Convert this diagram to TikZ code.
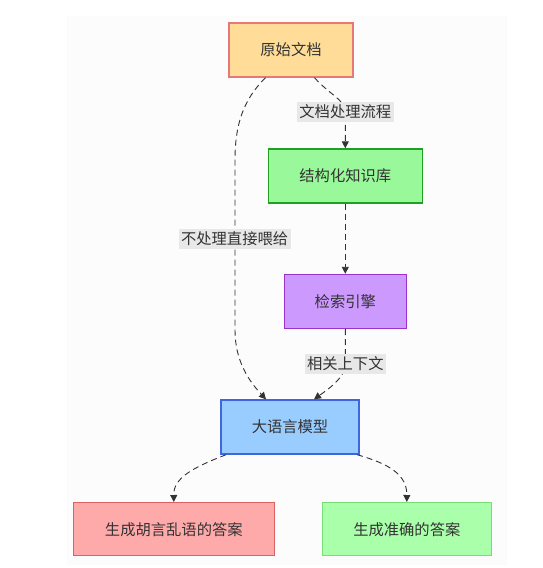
\documentclass[tikz,border=0pt]{standalone}
\usepackage{fontspec}
\setmainfont{Noto Sans CJK SC}
\usetikzlibrary{arrows.meta}
\definecolor{txt}{HTML}{333333}
\definecolor{bgc}{HTML}{FCFCFC}
\definecolor{lblbg}{HTML}{E8E8E8}
\definecolor{docf}{HTML}{FFDD99}\definecolor{docd}{HTML}{E87777}
\definecolor{kbf}{HTML}{99F899}\definecolor{kbd}{HTML}{1FA01F}
\definecolor{sef}{HTML}{CC99FF}\definecolor{sed}{HTML}{9933CC}
\definecolor{llmf}{HTML}{99CCFF}\definecolor{llmd}{HTML}{3D66E0}
\definecolor{badf}{HTML}{FFAAAA}\definecolor{badd}{HTML}{D96464}
\definecolor{goodf}{HTML}{AAFFAA}\definecolor{goodd}{HTML}{77DD77}
\begin{document}
\begin{tikzpicture}[x=1pt,y=-1pt,
  box/.style={draw,line width=1.4pt,minimum height=54pt,inner sep=0pt,text=txt,font=\fontsize{15.3}{17}\selectfont},
  lbl/.style={fill=lblbg,text=txt,inner sep=2.5pt,font=\fontsize{15.3}{17}\selectfont},
  conn/.style={draw=txt,line width=0.9pt,dash pattern=on 6pt off 4pt,-{Triangle[length=7pt,width=7pt]}}
]
\useasboundingbox (0,0) rectangle (543,568);
\fill[bgc] (67,16) rectangle (507,565);
\node[box,fill=docf,draw=docd,minimum width=124pt] (doc) at (291,50) {原始文档};
\node[box,fill=kbf,draw=kbd,minimum width=154pt] (kb) at (345.3,176) {结构化知识库};
\node[box,fill=sef,draw=sed,minimum width=122pt] (se) at (345.3,301.5) {检索引擎};
\node[box,fill=llmf,draw=llmd,minimum width=138pt] (llm) at (290,427) {大语言模型};
\node[box,fill=badf,draw=badd,minimum width=201pt,minimum height=53pt] (bad) at (173.8,529.2) {生成胡言乱语的答案};
\node[box,fill=goodf,draw=goodd,minimum width=169pt,minimum height=53pt] (good) at (406.8,529.2) {生成准确的答案};
\coordinate (l1) at (345.3,112);
\coordinate (l2) at (234.6,239);
\coordinate (l3) at (345.3,364);
\draw[conn] ([xshift=23.5pt]doc.south) .. controls (330,95) and (345.3,100) .. (l1) -- (kb.north);
\draw[conn] ([xshift=-25.5pt]doc.south) .. controls (243,100) and (235,125) .. (235,160) -- (235,330) .. controls (235,360) and (248,380) .. ([xshift=-24pt]llm.north);
\draw[conn] (kb.south) -- (se.north);
\draw[conn] (se.south) -- (l3) .. controls (345.3,378) and (327,390) .. ([xshift=24pt]llm.north);
\draw[conn] ([xshift=-64pt]llm.south) .. controls (192,468) and (173.5,478) .. (bad.north);
\draw[conn] ([xshift=67pt]llm.south) .. controls (390,464) and (407,475) .. (good.north);
\node[lbl] (t1) at (l1) {文档处理流程};
\node[lbl] (t2) at (l2) {不处理直接喂给};
\node[lbl] (t3) at (l3) {相关上下文};
\end{tikzpicture}
\end{document}
